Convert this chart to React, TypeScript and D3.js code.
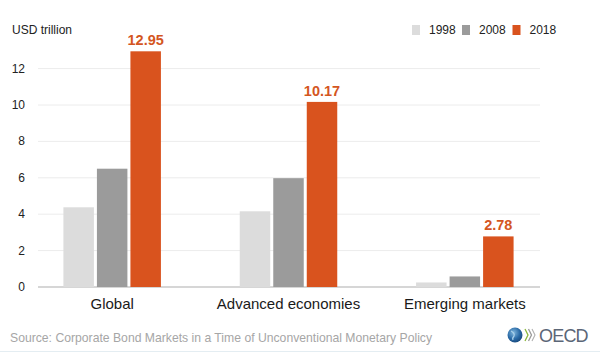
import * as d3 from 'd3';

// Corporate bond outstanding, USD trillion
const categories = ['Global', 'Advanced economies', 'Emerging markets'];
const years = ['1998', '2008', '2018'];
const values1998 = [4.38, 4.16, 0.25];
const values2008 = [6.5, 5.98, 0.58];
const values2018 = [12.95, 10.17, 2.78];
const yTicks = [0, 2, 4, 6, 8, 10, 12];
const yearColors = ['#dcdcdc', '#9b9b9b', '#d9531e'];

const seriesByYear = [values1998, values2008, values2018];

const W = 600;
const H = 353;
const font = '"Liberation Sans", Arial, sans-serif';

export default function App() {
  const y = d3.scaleLinear().domain([0, 12]).range([287, 68.6]);
  const x0 = d3.scaleBand().domain(categories).range([24, 553]).padding(0);
  const x1 = d3.scaleBand().domain(years).range([0, 97.5]).paddingInner(0.09).paddingOuter(0);
  const groupOffset = (x0.bandwidth() - 97.5) / 2;

  const gridX0 = 38;
  const gridX1 = 540;

  // last series gets the value labels
  const labelled = years[years.length - 1];

  return (
    <svg
      width={W}
      height={H}
      style={{ position: 'absolute', left: 0, top: 0, background: '#fff' }}
      fontFamily={font}
    >
      <rect width={W} height={H} fill="#fff" />

      {/* unit label */}
      <text x={12} y={34} fontSize={12} fill="#222">USD trillion</text>

      {/* gridlines + y ticks */}
      {yTicks.map(function (t) {
        return (
          <g key={t}>
            <line
              x1={gridX0}
              x2={gridX1}
              y1={y(t)}
              y2={y(t)}
              stroke={t === 0 ? '#c8c8c8' : '#ececec'}
              strokeWidth={t === 0 ? 1.5 : 1}
            />
            <text x={25} y={y(t) + 4} fontSize={12} textAnchor="end" fill="#222">{t}</text>
          </g>
        );
      })}

      {/* bars */}
      {categories.map(function (cat, i) {
        const gx = (x0(cat) || 0) + groupOffset;
        return (
          <g key={cat} transform={'translate(' + gx + ',0)'}>
            {years.map(function (yr, j) {
              const v = seriesByYear[j][i];
              const bx = x1(yr) || 0;
              return (
                <g key={yr}>
                  <rect
                    x={bx}
                    y={y(v)}
                    width={x1.bandwidth()}
                    height={y(0) - y(v)}
                    fill={yearColors[j]}
                  />
                  {yr === labelled && (
                    <text
                      x={bx + x1.bandwidth() / 2}
                      y={y(v) - 6}
                      textAnchor="middle"
                      fontSize={14.5}
                      fontWeight="bold"
                      fill="#d4561f"
                    >
                      {v.toFixed(2)}
                    </text>
                  )}
                </g>
              );
            })}
          </g>
        );
      })}

      {/* category labels */}
      {categories.map(function (cat) {
        return (
          <text
            key={cat}
            x={(x0(cat) || 0) + x0.bandwidth() / 2}
            y={309}
            textAnchor="middle"
            fontSize={15}
            fill="#1a1a1a"
          >
            {cat}
          </text>
        );
      })}

      {/* legend */}
      {years.map(function (yr, j) {
        const lx = [412, 462, 512.5][j];
        return (
          <g key={yr}>
            <rect x={lx} y={25} width={8} height={10} fill={yearColors[j]} />
            <text x={lx + 17} y={34} fontSize={12} fill="#222">{yr}</text>
          </g>
        );
      })}

      {/* source */}
      <text x={10} y={342} fontSize={12.2} fill="#a6a6a6">
        Source: Corporate Bond Markets in a Time of Unconventional Monetary Policy
      </text>

      {/* OECD logo */}
      <defs>
        <radialGradient id="globe" cx="0.4" cy="0.35" r="0.7">
          <stop offset="0" stopColor="#7fb6dd" />
          <stop offset="0.6" stopColor="#2a6aa6" />
          <stop offset="1" stopColor="#17477a" />
        </radialGradient>
      </defs>
      <circle cx={515} cy={335} r={7.5} fill="url(#globe)" />
      <path d="M511 331 q4 2 3 5 q-2 2 -1 4" stroke="#a9d0ea" strokeWidth={1.3} fill="none" />
      <path d="M525 329 l3 6 l-3 6" stroke="#8cb83c" strokeWidth={1.3} fill="none" />
      <path d="M528.5 329 l3 6 l-3 6" stroke="#9a9a9a" strokeWidth={1.3} fill="none" />
      <path d="M532 329 l3 6 l-3 6" stroke="#b0b0b0" strokeWidth={1.1} fill="none" />
      <text x={539} y={342} fontSize={18} fill="#5b6677" letterSpacing={-0.8}>OECD</text>

      <line x1={0} x2={W} y1={351.5} y2={351.5} stroke="#e4edf2" strokeWidth={1} />
    </svg>
  );
}
